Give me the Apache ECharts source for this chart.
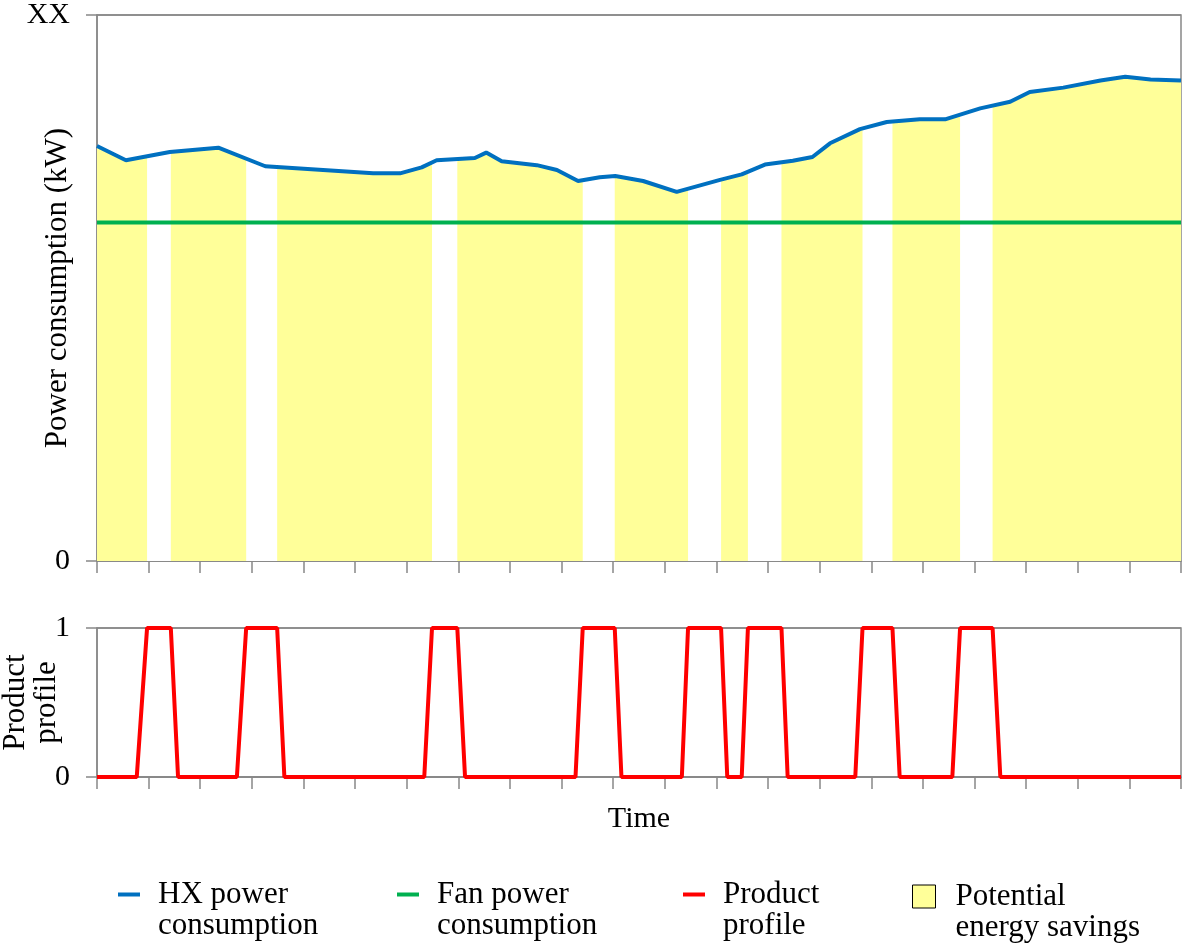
<!DOCTYPE html>
<html>
<head>
<meta charset="utf-8">
<script src="https://cdn.jsdelivr.net/npm/echarts@6/dist/echarts.min.js"></script>
<style>
  html, body { margin: 0; padding: 0; background: #fff; }
  #chart { width: 1192px; height: 943px; }
</style>
</head>
<body>
<div id="chart"></div>
<script>
// values; time axis runs 0..21 (one unit per tick), power 0..100 where 100 = "XX"
var hxTime = [0, 0.56, 1.41, 2.35, 3.26, 5.35, 5.87, 6.29, 6.58, 7.32, 7.54, 7.84, 8.52, 8.91, 9.32, 9.74, 10.04, 10.58, 11.23, 12.07, 12.49, 12.94, 13.48, 13.86, 14.20, 14.78, 15.30, 15.94, 16.43, 17.11, 17.69, 18.07, 18.72, 19.44, 19.92, 20.41, 21];
var hxPower = [76.0, 73.4, 74.9, 75.7, 72.3, 71.0, 71.0, 72.1, 73.4, 73.8, 74.8, 73.2, 72.5, 71.6, 69.6, 70.3, 70.5, 69.6, 67.6, 69.8, 70.8, 72.6, 73.3, 74.0, 76.5, 79.1, 80.4, 80.9, 80.9, 82.9, 84.1, 85.9, 86.7, 88.0, 88.7, 88.2, 88.0];
var fanTime = [0, 21];
var fanPower = [62, 62];
var productTime = [0, 0.77, 0.97, 1.43, 1.57, 2.71, 2.89, 3.49, 3.63, 6.34, 6.49, 6.98, 7.13, 9.27, 9.41, 10.03, 10.16, 11.33, 11.45, 12.09, 12.21, 12.49, 12.61, 13.26, 13.38, 14.69, 14.83, 15.41, 15.55, 16.57, 16.72, 17.35, 17.50, 21];
var productValue = [0, 0, 1, 1, 0, 0, 1, 1, 0, 0, 1, 1, 0, 0, 1, 1, 0, 0, 1, 1, 0, 0, 1, 1, 0, 0, 1, 1, 0, 0, 1, 1, 0, 0];

// leading blank line so the icon sits level with the first text line
var legendLabels = {
  'HX power consumption': '\nHX power\nconsumption',
  'Fan power consumption': '\nFan power\nconsumption',
  'Product profile': '\nProduct\nprofile',
  'Potential energy savings': '\nPotential\nenergy savings'
};

var FONT = 'Liberation Serif';
var AXIS = '#888888';

function pairs(xs, ys) {
  return xs.map(function (x, i) { return [x, ys[i]]; });
}

// no savings while product is being loaded: white out the plateaus of the product profile
var gaps = [];
for (var i = 1; i < productTime.length; i++) {
  if (productValue[i - 1] === 1 && productValue[i] === 1) {
    gaps.push([{ xAxis: productTime[i - 1], yAxis: 0 }, { xAxis: productTime[i], yAxis: 95 }]);
  }
}

function xAxisOpt(idx, extra) {
  var o = {
    type: 'value', gridIndex: idx, min: 0, max: 21, interval: 1,
    axisLine: { show: true, lineStyle: { color: AXIS, width: 1.5 } },
    axisTick: { show: true, inside: false, length: 12, lineStyle: { color: AXIS, width: 1.5 } },
    axisLabel: { show: false },
    splitLine: { show: false }
  };
  return Object.assign(o, extra || {});
}

function yAxisOpt(idx, max, fmt, extra) {
  var o = {
    type: 'value', gridIndex: idx, min: 0, max: max, interval: max,
    axisLine: { show: true, lineStyle: { color: AXIS, width: 1.5 } },
    axisTick: { show: true, inside: false, length: 11, lineStyle: { color: AXIS, width: 1.5 } },
    axisLabel: { formatter: fmt, margin: 27, color: '#000', fontSize: 30, fontFamily: FONT },
    splitLine: { show: true, lineStyle: { color: AXIS, width: 1.5 } }
  };
  return Object.assign(o, extra || {});
}

function legendOpt(name, left, top, w, h, color, border, gap) {
  return {
    left: left, top: top, padding: 0, orient: 'horizontal',
    selectedMode: false, itemWidth: w, itemHeight: h,
    data: [{ name: name, icon: 'rect',
      itemStyle: { color: color, borderColor: border ? '#000' : color, borderWidth: border ? 1 : 0 } }],
    formatter: function (n) { return legendLabels[n]; },
    textStyle: { fontSize: 31, fontFamily: FONT, color: '#000', lineHeight: 31, padding: [0, 0, 0, gap] }
  };
}

var myChart = echarts.init(document.getElementById('chart'), null, { renderer: 'canvas' });

option = {
  animation: false,
  backgroundColor: '#fff',
  textStyle: { fontFamily: FONT },
  grid: [
    { left: 97, top: 15, width: 1084, height: 546, outerBoundsMode: 'none', containLabel: false,
      show: true, borderColor: AXIS, borderWidth: 1.5, backgroundColor: 'transparent' },
    { left: 97, top: 628, width: 1084, height: 149, outerBoundsMode: 'none', containLabel: false,
      show: true, borderColor: AXIS, borderWidth: 1.5, backgroundColor: 'transparent' }
  ],
  xAxis: [
    xAxisOpt(0),
    xAxisOpt(1, {
      name: 'Time', nameLocation: 'middle', nameGap: 27, nameMoveOverlap: false,
      nameTextStyle: { fontSize: 30, fontFamily: FONT, color: '#000' }
    })
  ],
  yAxis: [
    yAxisOpt(0, 100, function (v) { return v === 100 ? 'XX' : '0'; }, {
      name: 'Power consumption (kW)', nameLocation: 'middle', nameGap: 24, nameMoveOverlap: false,
      nameTextStyle: { fontSize: 31, fontFamily: FONT, color: '#000' }
    }),
    yAxisOpt(1, 1, function (v) { return String(v); }, {
      name: 'Product\nprofile', nameLocation: 'middle', nameGap: 35, nameMoveOverlap: false,
      nameTextStyle: { fontSize: 31, fontFamily: FONT, color: '#000', lineHeight: 31 }
    })
  ],
  legend: [
    legendOpt('HX power consumption', 118, 848, 22, 4, '#0070C0', false, 13),
    legendOpt('Fan power consumption', 397, 848, 22, 4, '#00B050', false, 13),
    legendOpt('Product profile', 683, 848, 22, 4, '#FF0000', false, 13),
    legendOpt('Potential energy savings', 912, 850, 23, 23, '#FFFF99', true, 15)
  ],
  series: [
    {
      name: 'Potential energy savings', type: 'line', xAxisIndex: 0, yAxisIndex: 0,
      data: pairs(hxTime, hxPower), symbol: 'none', z: 1, silent: true,
      color: '#FFFF99',
      lineStyle: { width: 0, opacity: 0 },
      areaStyle: { color: '#FFFF99', opacity: 1 }
    },
    {
      name: 'gaps', type: 'line', xAxisIndex: 0, yAxisIndex: 0, z: 2, silent: true,
      data: pairs(fanTime, fanPower), symbol: 'none',
      lineStyle: { width: 0, opacity: 0 },
      markArea: { z: 2, silent: true, itemStyle: { color: '#FFFFFF', opacity: 1, borderWidth: 0 }, data: gaps }
    },
    {
      name: 'Fan power consumption', type: 'line', xAxisIndex: 0, yAxisIndex: 0,
      data: pairs(fanTime, fanPower), symbol: 'none', z: 3, color: '#00B050',
      lineStyle: { color: '#00B050', width: 4 }
    },
    {
      name: 'HX power consumption', type: 'line', xAxisIndex: 0, yAxisIndex: 0,
      data: pairs(hxTime, hxPower), symbol: 'none', z: 4, color: '#0070C0',
      lineStyle: { color: '#0070C0', width: 4 }
    },
    {
      name: 'Product profile', type: 'line', xAxisIndex: 1, yAxisIndex: 1,
      data: pairs(productTime, productValue), symbol: 'none', z: 3, clip: false, color: '#FF0000',
      lineStyle: { color: '#FF0000', width: 4 }
    }
  ]
};

myChart.setOption(option);
</script>
</body>
</html>
